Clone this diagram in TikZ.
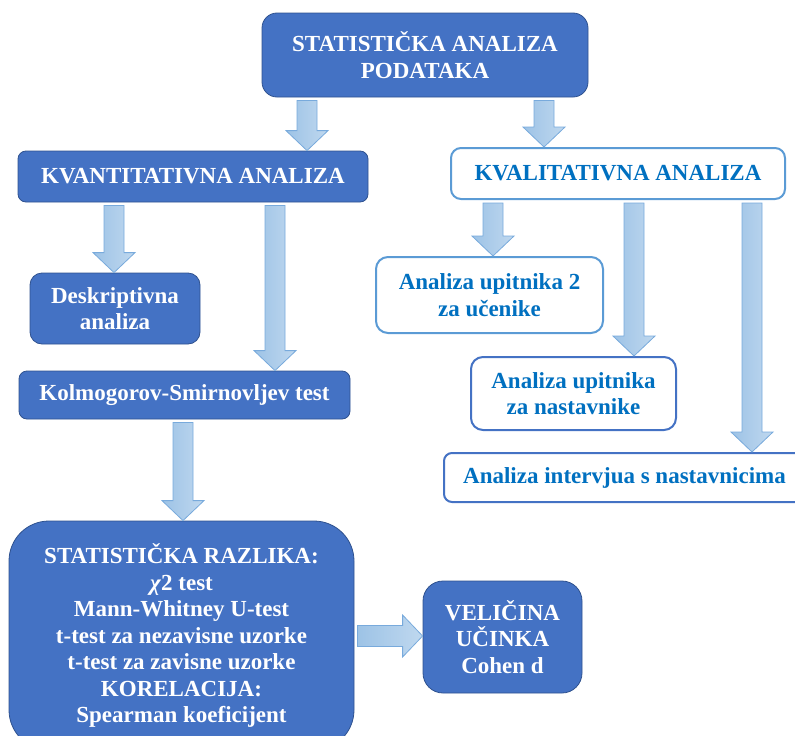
\documentclass[tikz,border=0pt]{standalone}
\usepackage{fontspec}
\setmainfont{Liberation Serif}
\usetikzlibrary{calc}
\definecolor{boxblue}{HTML}{4472C4}
\definecolor{boxedge}{HTML}{2F528F}
\definecolor{lightedge}{HTML}{5B9BD5}
\definecolor{textblue}{HTML}{0070C0}
\definecolor{arrowfill}{HTML}{9DC3E6}
\definecolor{arrowedge}{HTML}{78AADC}
\tikzset{
    darkbox/.style={draw=boxedge, line width=0.8pt, fill=boxblue, text=white, align=center,
        font=\bfseries\fontsize{23}{26.5}\selectfont, inner sep=0pt},
    lightbox/.style={draw=#1, line width=2pt, fill=white, text=textblue, align=center,
        font=\bfseries\fontsize{23}{26.5}\selectfont, inner sep=0pt},
    blockarrow/.style={draw=arrowedge, line width=0.8pt, left color=arrowfill, right color=arrowfill!65!white}
}
\newcommand{\varrow}[3]{%
    \draw[blockarrow] let \p1=(#1.south), \p2=(#2.north) in
        (#3pt-10pt,\y1-3pt) -- (#3pt+10pt,\y1-3pt) -- (#3pt+10pt,\y2+20pt) -- (#3pt+21pt,\y2+20pt)
        -- (#3pt,\y2) -- (#3pt-21pt,\y2+20pt) -- (#3pt-10pt,\y2+20pt) -- cycle;}
\newcommand{\harrow}[3]{%
    \draw[blockarrow] let \p1=(#1.east), \p2=(#2.west) in
        (\x1+3pt,-#3pt+10.5pt) -- (\x2-20pt,-#3pt+10.5pt) -- (\x2-20pt,-#3pt+21pt) -- (\x2,-#3pt)
        -- (\x2-20pt,-#3pt-21pt) -- (\x2-20pt,-#3pt-10.5pt) -- (\x1+3pt,-#3pt-10.5pt) -- cycle;}

\begin{document}
\begin{tikzpicture}[x=1pt, y=-1pt]
        \useasboundingbox (0,0) rectangle (795,736);
        \node[darkbox, rounded corners=15pt, minimum width=326pt, minimum height=84pt] (top) at (425,55) {STATISTIČKA ANALIZA\\PODATAKA};
        \node[darkbox, rounded corners=8pt, minimum width=350pt, minimum height=51pt] (kvant) at (193,176.5) {KVANTITATIVNA ANALIZA};
        \node[lightbox=lightedge, rounded corners=10pt, minimum width=334pt, minimum height=51pt] (kval) at (618,173.5) {KVALITATIVNA ANALIZA};
        \node[darkbox, rounded corners=12pt, minimum width=170pt, minimum height=71pt] (desk) at (115,308.5) {Deskriptivna\\analiza};
        \node[darkbox, rounded corners=8pt, minimum width=331pt, minimum height=48pt] (kolmo) at (184.5,395) {Kolmogorov-Smirnovljev test};
        \node[lightbox=lightedge, rounded corners=12pt, minimum width=227pt, minimum height=76pt] (upit2) at (489.5,295) {Analiza upitnika 2\\za učenike};
        \node[lightbox=boxblue, rounded corners=12pt, minimum width=205pt, minimum height=73pt] (upitn) at (573.5,393.5) {Analiza upitnika\\za nastavnike};
        \node[lightbox=boxblue, rounded corners=8pt, minimum width=361pt, minimum height=49pt] (interv) at (624.5,477.5) {Analiza intervjua s nastavnicima};
        \node[darkbox, rounded corners=40pt, minimum width=345pt, minimum height=229pt] (stat) at (181.5,635.5) {STATISTIČKA RAZLIKA:\\\textit{χ}2 test\\Mann-Whitney U-test\\t-test za nezavisne uzorke\\t-test za zavisne uzorke\\KORELACIJA:\\Spearman koeficijent};
        \node[darkbox, rounded corners=20pt, minimum width=159pt, minimum height=112pt] (vel) at (502.5,637) {VELIČINA\\UČINKA\\Cohen d};
        \varrow{top}{kvant}{307}
        \varrow{top}{kval}{544}
        \varrow{kvant}{desk}{114}
        \varrow{kvant}{kolmo}{275}
        \varrow{kval}{upit2}{493}
        \varrow{kval}{upitn}{634}
        \varrow{kval}{interv}{752}
        \varrow{kolmo}{stat}{183}
        \harrow{stat}{vel}{636}
    \end{tikzpicture}
\end{document}
